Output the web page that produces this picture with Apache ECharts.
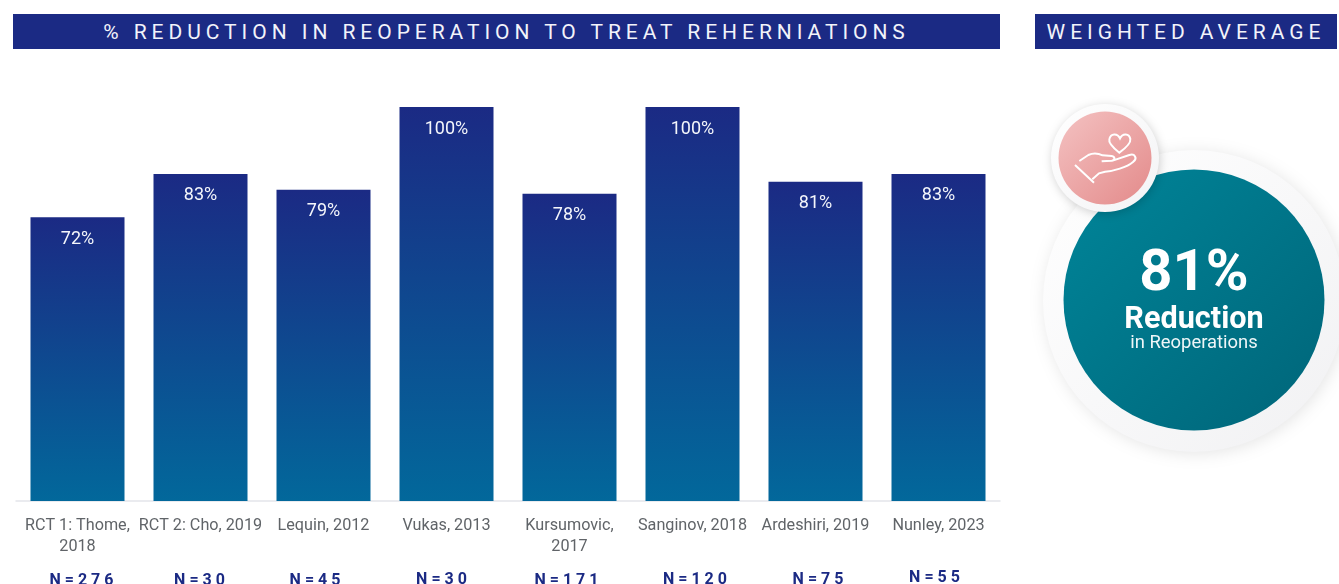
<!DOCTYPE html>
<html>
<head>
<meta charset="utf-8">
<title>Reduction in reoperation</title>
<script src="https://cdn.jsdelivr.net/npm/echarts@6/dist/echarts.min.js"></script>
<style>
  html, body { margin: 0; padding: 0; background: #fff; }
  #chart { position: absolute; left: 0; top: 0; width: 1339px; height: 584px; }
  .banner {
    position: absolute; top: 14px; height: 35px;
    background: #1b2a84; color: #f2f3fa; text-align: center; white-space: nowrap;
    font: 400 21px/36px Roboto, sans-serif; letter-spacing: 4.95px; z-index: 2;
  }
  #bannerLeft { left: 13px; width: 987px; }
  #bannerRight { left: 1035px; width: 302px; }
</style>
</head>
<body>
<div class="banner" id="bannerLeft">% REDUCTION IN REOPERATION TO TREAT REHERNIATIONS</div>
<div class="banner" id="bannerRight">WEIGHTED AVERAGE</div>
<div id="chart"></div>
<script>
const studies = ['RCT 1: Thome,\n2018', 'RCT 2: Cho, 2019', 'Lequin, 2012', 'Vukas, 2013', 'Kursumovic,\n2017', 'Sanginov, 2018', 'Ardeshiri, 2019', 'Nunley, 2023']
const reductions = [72, 83, 79, 100, 78, 100, 81, 83]
const sampleSizes = ['N = 2 7 6', 'N = 3 0', 'N = 4 5', 'N = 3 0', 'N = 1 7 1', 'N = 1 2 0', 'N = 7 5', 'N = 5 5']
const weightedAverage = '81%'

const NAVY = '#1b2a84'

// the N labels sit slightly off their bars in the original; padding nudges each one
const nPadLeft = [8, 0, 0, 0, 0, 5, 5, 0]
const nPadRight = [0, 2, 17, 10, 6, 0, 0, 8]
const nPadTop = [6, 6, 6, 4, 6, 4, 4, 0]
const nRich = {}
studies.forEach((s, i) => {
  nRich['n' + i] = {
    fontFamily: 'Roboto', fontSize: 16, fontWeight: 700, color: NAVY, lineHeight: 16,
    padding: [nPadTop[i], nPadRight[i], 0, nPadLeft[i]],
  }
})

// hand + heart icon, traced in a 3x crop of the badge
const heartPath = 'M268,188 C245,170 235,158 238,147 C242,130 262,128 270,145 C278,128 298,130 301,147 C303,160 290,172 268,188 Z'
const handPath = 'M148,213 L175,195 C190,188 205,190 218,196 L245,198 C256,200 256,211 245,212 L215,214 M248,212 L298,195 C315,190 323,205 310,215 C290,232 250,244 225,245 L207,250 L187,268 M135,225 L192,278'

// graphic has no plain "path" type, so the icon shapes get registered
echarts.graphic.registerShape('badgeHeart', echarts.graphic.extendPath(heartPath, {}))
echarts.graphic.registerShape('badgeHand', echarts.graphic.extendPath(handPath, {}))

function circle(cx, cy, r, fill, extra) {
  return { type: 'circle', shape: { cx, cy, r }, style: Object.assign({ fill }, extra), silent: true }
}

function diagonal(from, to) {
  return new echarts.graphic.LinearGradient(0, 0, 1, 1, [
    { offset: 0, color: from },
    { offset: 1, color: to },
  ])
}

function centerText(y, text, font, fill) {
  return { type: 'text', x: 1194, y, silent: true, style: { text, font, fill, align: 'center', verticalAlign: 'middle' } }
}

const chart = echarts.init(document.getElementById('chart'), null, { renderer: 'canvas' })
chart.setOption({
  animation: false,
  backgroundColor: '#fff',
  // N labels run close to the page edge, don't let v6 shrink the grid for them
  grid: { left: 16, right: 339, top: 107, bottom: 83, outerBoundsMode: 'none' },
  xAxis: [
    {
      type: 'category',
      position: 'bottom',
      data: studies,
      axisLine: { lineStyle: { color: '#e3e5ea', width: 1.5 } },
      axisTick: { show: false },
      axisLabel: {
        interval: 0,
        margin: 14,
        fontFamily: 'Roboto',
        fontSize: 16.2,
        lineHeight: 21,
        color: '#606468',
      },
    },
    {
      type: 'category',
      position: 'bottom',
      data: sampleSizes,
      axisLine: { show: false },
      axisTick: { show: false },
      axisLabel: {
        interval: 0,
        margin: 69,
        formatter: (v, i) => `{n${i}|${v}}`,
        rich: nRich,
      },
    },
  ],
  yAxis: { type: 'value', min: 0, max: 100, show: false },
  series: [
    {
      type: 'bar',
      data: reductions,
      barWidth: 94,
      itemStyle: {
        color: new echarts.graphic.LinearGradient(0, 0, 0, 1, [
          { offset: 0, color: NAVY },
          { offset: 1, color: '#02689b' },
        ]),
      },
      label: {
        show: true,
        position: 'insideTop',
        distance: 13,
        formatter: '{c}%',
        fontFamily: 'Roboto',
        fontSize: 18,
        color: '#f4f6fb',
      },
    },
  ],
  graphic: [
    circle(1194, 301, 151, diagonal('#ffffff', '#f1f1f3'), { shadowBlur: 16, shadowColor: 'rgba(0,0,0,0.10)', shadowOffsetX: 2, shadowOffsetY: 2 }),
    circle(1194, 300, 130.5, diagonal('#008599', '#006579')),
    circle(1105, 158, 54, diagonal('#ffffff', '#f3f3f5'), { shadowBlur: 10, shadowColor: 'rgba(0,0,0,0.18)', shadowOffsetX: 1, shadowOffsetY: 2 }),
    circle(1105, 158, 46.5, diagonal('#f4c2c2', '#e38a8a')),
    {
      type: 'group', x: 1030, y: 90, scaleX: 1 / 3, scaleY: 1 / 3, silent: true,
      children: ['badgeHeart', 'badgeHand'].map((type) => ({
        type,
        style: { fill: null, stroke: '#fff', lineWidth: 6 },
      })),
    },
    centerText(275, weightedAverage, '700 58px Roboto', '#fff'),
    centerText(320, 'Reduction', '700 30.6px Roboto', '#fff'),
    centerText(343, 'in Reoperations', '400 18.4px Roboto', '#eef6f8'),
  ],
})
</script>
</body>
</html>
